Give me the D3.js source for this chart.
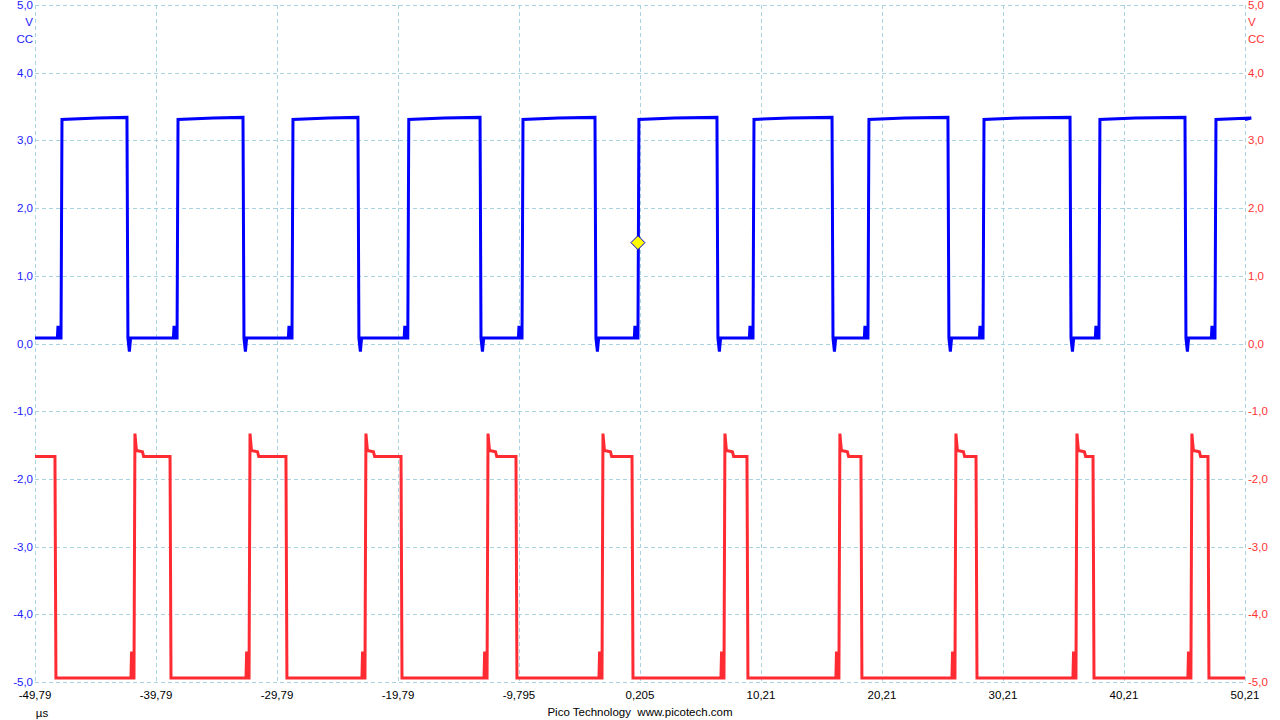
<!DOCTYPE html>
<html><head><meta charset="utf-8">
<script src="https://cdn.jsdelivr.net/npm/d3@7"></script>
<style>body{margin:0;background:#fff}svg{display:block}text{font-family:"Liberation Sans",Arial,sans-serif;font-size:11.5px;white-space:pre}</style>
</head><body><svg id="c" width="1280" height="720"></svg>
<script>
// ---- data ----
const xTicks = [-49.79,-39.79,-29.79,-19.79,-9.795,0.205,10.21,20.21,30.21,40.21,50.21];
const xTickLabels = ["-49,79","-39,79","-29,79","-19,79","-9,795","0,205","10,21","20,21","30,21","40,21","50,21"];
const yTicks = [5,4,3,2,1,0,-1,-2,-3,-4,-5];
const yTickLabels = ["5,0","4,0","3,0","2,0","1,0","0,0","-1,0","-2,0","-3,0","-4,0","-5,0"];
// channel A (blue)
const blueRise = [-47.64,-38.05,-28.55,-18.98,-9.54,0.04,9.55,19.05,28.56,38.14,47.73];
const blueFall = [-42.19,-32.60,-23.10,-13.01,-3.51,6.57,16.08,25.66,35.75,45.25];
const blueHigh = 3.31, blueLow = 0.08, blueUnder = -0.12, blueBump = 0.26;
// channel B (red)
const redFall = [-48.14,-38.63,-29.05,-19.54,-10.04,-0.45,9.05,18.47,27.98,37.65,47.15];
const redRise = [-41.61,-32.10,-22.52,-12.43,-2.93,7.15,16.65,26.24,36.24,45.74];
const redHigh = -1.67, redLow = -4.94, redSpike = -1.33, redBump = -4.55;
const trigger = [0.04, 1.49];

// ---- layout ----
const svg = d3.select("#c");
const L = 35, R = 1245, T = 5, B = 682;
const x = d3.scaleLinear().domain([-49.79, 50.21]).range([L, R]);
const y = d3.scaleLinear().domain([-5, 5]).range([B, T]);
const gridCol = "#a9d3e0";

// grid
svg.append("g").selectAll("line").data(yTicks).join("line")
  .attr("x1", L).attr("x2", R).attr("y1", d => Math.round(y(d)) + .5).attr("y2", d => Math.round(y(d)) + .5)
  .attr("stroke", gridCol).attr("stroke-dasharray", "4,3");
svg.append("g").selectAll("line").data(xTicks).join("line")
  .attr("y1", T).attr("y2", B).attr("x1", d => Math.round(x(d)) + .5).attr("x2", d => Math.round(x(d)) + .5)
  .attr("stroke", gridCol).attr("stroke-dasharray", "4,3");

// axis labels
const yl = svg.append("g");
yl.selectAll("text.l").data(yTicks).join("text").attr("class", "l")
  .attr("x", 33).attr("y", d => y(d) + 4).attr("text-anchor", "end").attr("fill", "#2020ff")
  .text((d, i) => yTickLabels[i]);
yl.selectAll("text.r").data(yTicks).join("text").attr("class", "r")
  .attr("x", 1248).attr("y", d => y(d) + 4).attr("text-anchor", "start").attr("fill", "#ff3333")
  .text((d, i) => yTickLabels[i]);
[["V", 26], ["CC", 43]].forEach(([s, yy]) => {
  svg.append("text").attr("x", 33).attr("y", yy).attr("text-anchor", "end").attr("fill", "#2020ff").text(s);
  svg.append("text").attr("x", 1248).attr("y", yy).attr("text-anchor", "start").attr("fill", "#ff3333").text(s);
});
svg.append("g").selectAll("text").data(xTicks).join("text")
  .attr("x", d => x(d)).attr("y", 699).attr("text-anchor", "middle").attr("fill", "#000")
  .text((d, i) => xTickLabels[i]);
svg.append("text").attr("x", 42).attr("y", 717).attr("text-anchor", "middle").attr("fill", "#000").text("µs");
svg.append("text").attr("x", 640).attr("y", 716).attr("text-anchor", "middle").attr("fill", "#000")
  .attr("xml:space", "preserve").text("Pico Technology  www.picotech.com");

// waveform builders
const dt = 0.08;
function bluePts() {
  const ev = blueRise.map(t => ({t, up: true})).concat(blueFall.map(t => ({t, up: false}))).sort((a, b) => a.t - b.t);
  const p = [[-49.79, blueLow]];
  ev.forEach(e => {
    if (e.up) {
      p.push([e.t - 0.3, blueLow], [e.t - 0.25, blueBump], [e.t - 0.2, blueLow], [e.t, blueLow],
             [e.t + dt, blueHigh], [e.t + 3, blueHigh + 0.02]);
    } else {
      p.push([e.t, blueHigh + 0.03], [e.t + dt, blueLow], [e.t + 0.2, blueUnder], [e.t + 0.3, blueLow]);
    }
  });
  p.push([50.21, blueHigh]);
  return p;
}
function redPts() {
  const ev = redRise.map(t => ({t, up: true})).concat(redFall.map(t => ({t, up: false}))).sort((a, b) => a.t - b.t);
  const p = [[-49.79, redHigh]];
  ev.forEach(e => {
    if (e.up) {
      p.push([e.t - 0.25, redLow], [e.t - 0.2, redBump], [e.t - 0.15, redLow], [e.t, redLow],
             [e.t + dt, redSpike], [e.t + 0.2, -1.58], [e.t + 0.7, -1.6], [e.t + 0.8, redHigh]);
    } else {
      p.push([e.t, redHigh], [e.t + dt, redLow]);
    }
  });
  p.push([50.21, redLow]);
  return p;
}
const line = d3.line().x(d => x(d[0])).y(d => y(d[1]));
svg.append("path").attr("d", line(bluePts())).attr("fill", "none").attr("stroke", "#0000ff").attr("stroke-width", 3).attr("stroke-linejoin", "miter");
svg.append("path").attr("d", line(redPts())).attr("fill", "none").attr("stroke", "#ff2b33").attr("stroke-width", 3).attr("stroke-linejoin", "miter");

// trigger marker
const tx = x(trigger[0]), ty = y(trigger[1]);
svg.append("path").attr("d", `M${tx},${ty-7}L${tx+7},${ty}L${tx},${ty+7}L${tx-7},${ty}Z`)
  .attr("fill", "#ffff00").attr("stroke", "#0000cc").attr("stroke-width", 1);
</script></body></html>
